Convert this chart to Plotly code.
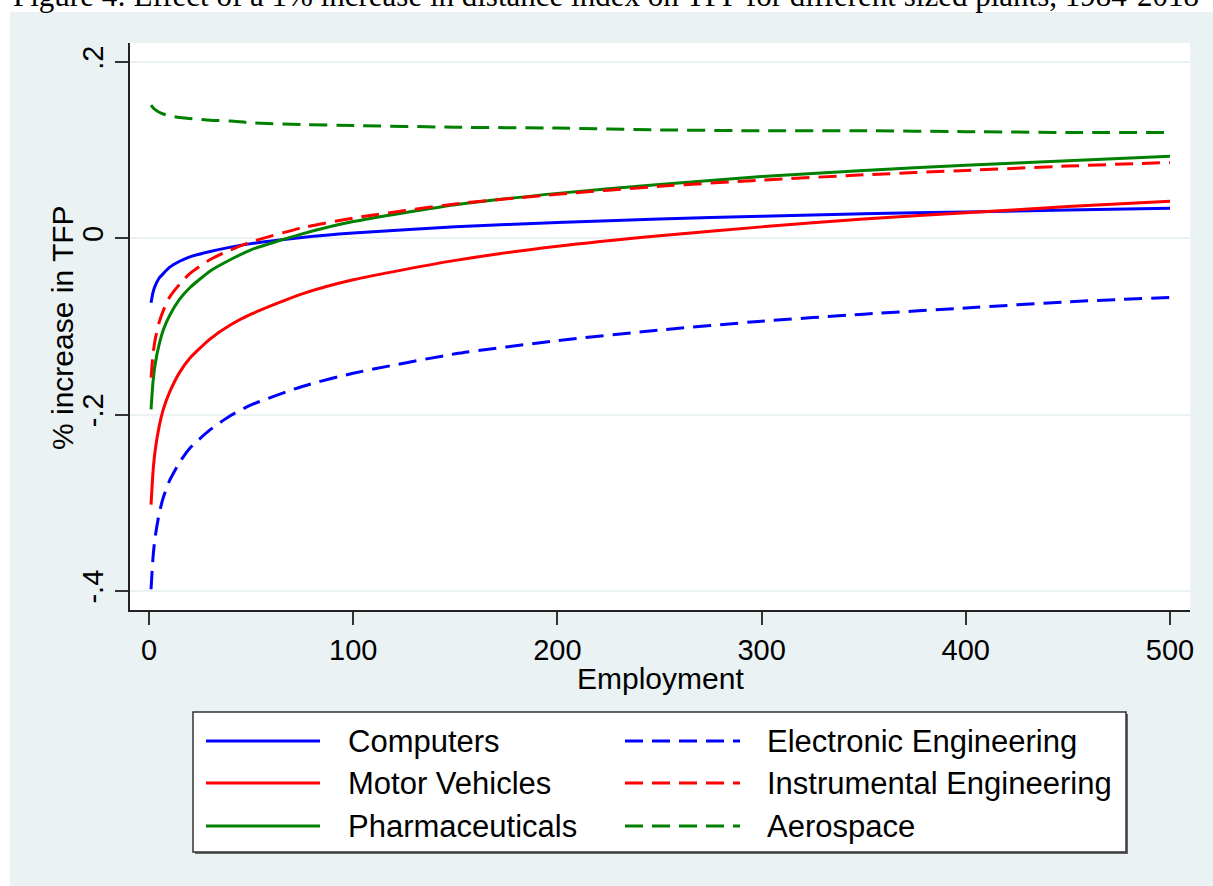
import plotly.graph_objects as go

# ---- data ----
employment = [1, 2, 3, 5, 7, 10, 15, 20, 30, 40, 50, 75, 100, 150, 200, 250, 300, 350, 400, 450, 500]

computers = [-0.073, -0.061, -0.054, -0.045, -0.040, -0.033, -0.026, -0.021, -0.015, -0.010, -0.006,
             0.001, 0.006, 0.013, 0.018, 0.022, 0.025, 0.028, 0.030, 0.032, 0.034]
motor_vehicles = [-0.302, -0.264, -0.241, -0.213, -0.194, -0.175, -0.152, -0.136, -0.114, -0.098, -0.086,
                  -0.063, -0.047, -0.025, -0.009, 0.003, 0.013, 0.022, 0.029, 0.036, 0.042]
pharmaceuticals = [-0.194, -0.162, -0.143, -0.120, -0.104, -0.088, -0.069, -0.056, -0.037, -0.024, -0.013,
                   0.005, 0.019, 0.038, 0.051, 0.061, 0.070, 0.077, 0.083, 0.088, 0.093]
electronic_eng = [-0.398, -0.361, -0.339, -0.312, -0.294, -0.275, -0.254, -0.238, -0.217, -0.201, -0.189,
                  -0.168, -0.153, -0.131, -0.116, -0.104, -0.094, -0.086, -0.079, -0.072, -0.067]
instrumental_eng = [-0.158, -0.131, -0.115, -0.095, -0.082, -0.067, -0.052, -0.040, -0.024, -0.013, -0.004,
                    0.012, 0.023, 0.039, 0.050, 0.059, 0.066, 0.072, 0.077, 0.082, 0.086]
aerospace = [0.151, 0.148, 0.146, 0.143, 0.141, 0.139, 0.137, 0.136, 0.134, 0.133, 0.131,
             0.129, 0.128, 0.126, 0.125, 0.123, 0.122, 0.122, 0.121, 0.120, 0.120]

series_names = ["Computers", "Motor Vehicles", "Pharmaceuticals",
                "Electronic Engineering", "Instrumental Engineering", "Aerospace"]
series_values = [computers, motor_vehicles, pharmaceuticals,
                 electronic_eng, instrumental_eng, aerospace]

x_tickvals = [0, 100, 200, 300, 400, 500]
x_ticktext = ["0", "100", "200", "300", "400", "500"]
y_tickvals = [-0.4, -0.2, 0, 0.2]
y_ticktext = ["-.4", "-.2", "0", ".2"]

title_text = "Figure 4: Effect of a 1% increase in distance index on TFP for different sized plants, 1984-2018"
x_title = "Employment"
y_title = "% increase in TFP"

# ---- styles ----
colors = ["#0000FF", "#FF0000", "#008000", "#0000FF", "#FF0000", "#008000"]
dashes = ["solid", "solid", "solid", "18px,9px", "18px,9px", "18px,9px"]
BG = "#EAF2F3"
FONT = "Liberation Sans, Arial, sans-serif"
LW = 3

W, H = 1213, 886
L, R, T, B = 130, 1190, 43, 610  # plot area in pixels


def px(xp):
    return (xp - L) / (R - L)


def py(yp):
    return (B - yp) / (B - T)


fig = go.Figure()
for name, vals, col, dash in zip(series_names, series_values, colors, dashes):
    fig.add_trace(go.Scatter(
        x=employment, y=vals, mode="lines", name=name,
        line=dict(color=col, width=LW, dash=dash, shape="spline", smoothing=0.6),
        showlegend=False,
    ))

shapes = []
annotations = []

# white strips at top/left of the page
shapes.append(dict(type="rect", xref="paper", yref="paper", x0=px(-20), x1=px(W + 20),
                   y0=py(12), y1=py(-20), fillcolor="white", line=dict(width=0), layer="below"))
shapes.append(dict(type="rect", xref="paper", yref="paper", x0=px(-20), x1=px(10),
                   y0=py(H + 20), y1=py(-20), fillcolor="white", line=dict(width=0), layer="below"))

# partially visible figure title at the top of the page
annotations.append(dict(text=title_text, xref="paper", yref="paper", x=px(11), y=py(15),
                        xanchor="left", yanchor="bottom", showarrow=False,
                        font=dict(family="Liberation Serif, Times New Roman, serif", size=31, color="black")))

# axis titles
annotations.append(dict(text=x_title, xref="paper", yref="paper", x=px(660), y=py(678),
                        xanchor="center", yanchor="middle", showarrow=False,
                        font=dict(family=FONT, size=30, color="black")))
annotations.append(dict(text=y_title, xref="paper", yref="paper", x=px(62), y=py(328),
                        xanchor="center", yanchor="middle", showarrow=False, textangle=-90,
                        font=dict(family=FONT, size=30, color="black")))

# legend box (manual, two columns)
lx0, lx1, ly0, ly1 = 193, 1126, 712, 852
shapes.append(dict(type="rect", xref="paper", yref="paper", x0=px(lx0 + 2), x1=px(lx1 + 2),
                   y0=py(ly1 + 2), y1=py(ly0 + 2), fillcolor="#666666", line=dict(width=0)))
shapes.append(dict(type="rect", xref="paper", yref="paper", x0=px(lx0), x1=px(lx1),
                   y0=py(ly1), y1=py(ly0), fillcolor="white", line=dict(color="#333333", width=1.5)))

row_y = [741, 783, 826]
col_line = [(206, 320), (625, 740)]
col_text = [346, 765]
for i, (name, col, dash) in enumerate(zip(series_names, colors, dashes)):
    c, r = divmod(i, 3)
    y = row_y[r]
    shapes.append(dict(type="line", xref="paper", yref="paper",
                       x0=px(col_line[c][0]), x1=px(col_line[c][1]), y0=py(y), y1=py(y),
                       line=dict(color=col, width=LW, dash=dash)))
    annotations.append(dict(text=name, xref="paper", yref="paper", x=px(col_text[c]), y=py(y),
                            xanchor="left", yanchor="middle", showarrow=False,
                            font=dict(family=FONT, size=31, color="black")))

fig.update_layout(
    width=W, height=H,
    margin=dict(l=L, r=W - R, t=T, b=H - B),
    paper_bgcolor=BG, plot_bgcolor="white",
    font=dict(family=FONT, color="black"),
    shapes=shapes, annotations=annotations,
    showlegend=False,
)

fig.update_xaxes(
    range=[(L - 149) / 2.042, (R - 149) / 2.042],
    tickvals=x_tickvals, ticktext=x_ticktext,
    ticks="outside", ticklen=13, tickwidth=1.5, tickcolor="#333333",
    tickfont=dict(size=29, family=FONT, color="black"),
    showgrid=False, zeroline=False,
    showline=True, linecolor="#222222", linewidth=2,
)
fig.update_yaxes(
    range=[-0.4 - (B - 591) / 881.7, 0.2 + (62 - T) / 881.7],
    tickvals=y_tickvals, ticktext=y_ticktext, tickangle=-90,
    ticks="outside", ticklen=13, tickwidth=1.5, tickcolor="#333333",
    tickfont=dict(size=29, family=FONT, color="black"),
    showgrid=True, gridcolor=BG, gridwidth=2, zeroline=False,
    showline=True, linecolor="#222222", linewidth=2,
)

fig.write_html("out.html",
               config={"displayModeBar": False},
               post_script="document.body.style.margin='0';document.body.style.padding='0';")
